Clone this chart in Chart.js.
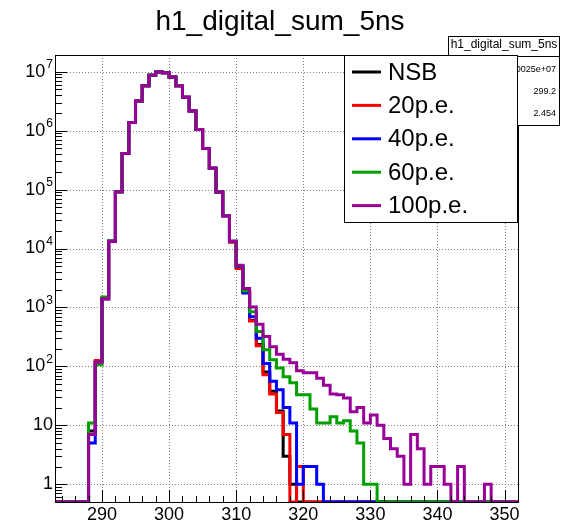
<!DOCTYPE html>
<html>
<head>
<meta charset="utf-8">
<script src="https://cdn.jsdelivr.net/npm/chart.js@4.4.0/dist/chart.umd.min.js"></script>
<style>
html, body { margin: 0; padding: 0; background: #fff; }
canvas { display: block; }
</style>
</head>
<body>
<canvas id="c" width="561" height="526"></canvas>
<script>
// histogram binning: unit bins from 283 to 352
const binStart = 283;
const binEnd = 352;
const yMin = 0.5;
const yMax = 1.92e7;

const xTicks = [290, 300, 310, 320, 330, 340, 350];
const yDecades = [0, 1, 2, 3, 4, 5, 6, 7];

const seriesNames = ['NSB', '20p.e.', '40p.e.', '60p.e.', '100p.e.'];

// bin contents, bins 283 ... 351
const nsb = [0, 0, 0, 0, 0, 8, 120,
  1400, 13300, 92000, 410000, 1380000, 3180000, 5800000, 8700000, 9900000, 9600000,
  8100000, 5800000, 3700000, 2160000, 1050000, 500000, 230000, 91000, 36000, 13000,
  4800, 1850, 600, 235, 80, 38, 17.5, 3, 1,
  0, 0, 0, 0, 0, 0, 0, 0, 0, 0, 0, 0, 0, 0, 0, 0, 0, 0, 0, 0, 0, 0, 0, 0, 0, 0, 0, 0, 0, 0, 0, 0, 0];

const pe20 = [0, 0, 0, 0, 0, 7, 126,
  1400, 13300, 92000, 410000, 1380000, 3180000, 5800000, 8700000, 9900000, 9600000,
  8100000, 5800000, 3700000, 2160000, 1050000, 500000, 230000, 91000, 36000, 12800,
  4600, 1800, 590, 225, 72, 34, 16.5, 7, 0, 2,
  0, 0, 0, 0, 0, 0, 0, 0, 0, 0, 0, 0, 0, 0, 0, 0, 0, 0, 0, 0, 0, 0, 0, 0, 0, 0, 0, 0, 0, 0, 0, 0];

const pe40 = [0, 0, 0, 0, 0, 5, 118,
  1400, 13300, 92000, 410000, 1380000, 3180000, 5800000, 8700000, 9900000, 9600000,
  8100000, 5800000, 3700000, 2160000, 1050000, 500000, 230000, 91000, 36000, 13300,
  5000, 1760, 695, 300, 112, 56, 40, 20, 11, 1, 2, 2, 1,
  0, 0, 0, 0, 0, 0, 0, 0, 0, 0, 0, 0, 0, 0, 0, 0, 0, 0, 0, 0, 0, 0, 0, 0, 0, 0, 0, 0, 0];

const pe60 = [0, 0, 0, 0, 0, 11, 107,
  1500, 13500, 92000, 410000, 1380000, 3180000, 5800000, 8700000, 9900000, 9600000,
  8100000, 5800000, 3700000, 2160000, 1050000, 500000, 230000, 91000, 36000, 13300,
  5100, 1900, 845, 390, 191, 130, 94, 67, 53, 33, 33, 19, 11, 11, 14, 11, 12, 8, 5, 1, 1,
  0, 0, 0, 0, 0, 0, 0, 0, 0, 0, 0, 0, 0, 0, 0, 0, 0, 0, 0, 0, 0];

const pe100 = [0, 0, 0, 0, 0, 7, 118,
  1400, 13300, 92000, 410000, 1380000, 3180000, 5800000, 8700000, 9900000, 9600000,
  8100000, 5800000, 3700000, 2160000, 1050000, 500000, 230000, 91000, 36000, 13300,
  5200, 2090, 1020, 520, 320, 215, 160, 132, 115, 84, 78, 78, 63, 48, 34, 33, 29, 17, 20,
  11, 15, 10, 6, 4, 3, 1, 7, 4, 1, 2, 2, 1, 0, 2, 0, 0, 0, 1,
  0, 0, 0, 0];

const statLabels = ['Entries', 'Mean', 'Std Dev'];
const statValues = ['6.0025e+07', '299.2', '2.454'];

const seriesData = [nsb, pe20, pe40, pe60, pe100];
const colors = ['#000000', '#ff0000', '#0000ff', '#00a000', '#990099'];

const FONT = '"Liberation Sans", Arial, sans-serif';

// points at bin low edges, plus the last high edge
function toSteps(vals) {
  const pts = vals.map((v, i) => ({ x: binStart + i, y: Math.max(v, yMin) }));
  pts.push({ x: binEnd, y: Math.max(vals[vals.length - 1], yMin) });
  return pts;
}

const rootStyle = {
  id: 'rootStyle',
  beforeDraw(chart) {
    const ctx = chart.ctx;
    ctx.save();
    ctx.fillStyle = '#ffffff';
    ctx.fillRect(0, 0, chart.width, chart.height);
    ctx.restore();
  },
  beforeDatasetsDraw(chart) {
    const { ctx, chartArea: a, scales: { x, y } } = chart;
    ctx.save();
    ctx.strokeStyle = '#808080';
    ctx.lineWidth = 1;
    ctx.setLineDash([1, 2]);
    xTicks.forEach(t => {
      const px = Math.round(x.getPixelForValue(t)) + 0.5;
      ctx.beginPath();
      ctx.moveTo(px, a.top);
      ctx.lineTo(px, a.bottom);
      ctx.stroke();
    });
    yDecades.forEach(k => {
      const py = Math.round(y.getPixelForValue(Math.pow(10, k))) + 0.5;
      ctx.beginPath();
      ctx.moveTo(a.left, py);
      ctx.lineTo(a.right, py);
      ctx.stroke();
    });
    ctx.restore();
  },
  afterDatasetsDraw(chart) {
    const { ctx, chartArea: a, scales: { x, y } } = chart;
    ctx.save();
    ctx.setLineDash([]);
    ctx.strokeStyle = '#000';
    ctx.lineWidth = 1;

    // frame
    ctx.strokeRect(a.left + 0.5, a.top + 0.5, a.right - a.left, a.bottom - a.top);

    // x ticks (major every 10, minor every 2)
    for (let v = 284; v <= binEnd; v += 2) {
      const px = Math.round(x.getPixelForValue(v)) + 0.5;
      const len = v % 10 === 0 ? 12 : 6;
      ctx.beginPath();
      ctx.moveTo(px, a.bottom);
      ctx.lineTo(px, a.bottom - len);
      ctx.stroke();
    }

    // y ticks (log)
    for (let k = -1; k <= 7; k++) {
      for (let m = 1; m <= 9; m++) {
        const v = m * Math.pow(10, k);
        if (v < yMin || v > yMax) continue;
        const py = Math.round(y.getPixelForValue(v)) + 0.5;
        const len = m === 1 ? 12 : 7;
        ctx.beginPath();
        ctx.moveTo(a.left, py);
        ctx.lineTo(a.left + len, py);
        ctx.stroke();
      }
    }

    // x labels
    ctx.fillStyle = '#000';
    ctx.font = '18px ' + FONT;
    ctx.textAlign = 'center';
    ctx.textBaseline = 'middle';
    xTicks.forEach(t => {
      ctx.fillText(String(t), x.getPixelForValue(t), 515);
    });

    // y labels with exponent
    const rightEdge = 53;
    yDecades.forEach(k => {
      const py = y.getPixelForValue(Math.pow(10, k));
      const base = k === 0 ? '1' : '10';
      ctx.font = '18px ' + FONT;
      const bw = ctx.measureText(base).width;
      if (k >= 2) {
        ctx.font = '12px ' + FONT;
        const ew = ctx.measureText(String(k)).width;
        ctx.textAlign = 'left';
        ctx.fillText(String(k), rightEdge - ew, py - 7);
        ctx.font = '18px ' + FONT;
        ctx.fillText(base, rightEdge - ew - bw - 1, py);
      } else {
        ctx.textAlign = 'left';
        ctx.fillText(base, rightEdge - bw, py);
      }
    });

    // title
    ctx.font = '28px ' + FONT;
    ctx.textAlign = 'center';
    ctx.fillText('h1_digital_sum_5ns', 280, 22);

    // stats box
    ctx.fillStyle = '#fff';
    ctx.fillRect(448.5, 36.5, 111, 89);
    ctx.strokeRect(448.5, 36.5, 111, 89);
    ctx.beginPath();
    ctx.moveTo(448.5, 56.5);
    ctx.lineTo(559.5, 56.5);
    ctx.stroke();
    ctx.fillStyle = '#000';
    ctx.font = '12px ' + FONT;
    ctx.fillText('h1_digital_sum_5ns', 504, 45);
    ctx.font = '9px ' + FONT;
    statLabels.forEach((s, i) => {
      const ty = 70 + i * 22;
      ctx.textAlign = 'left';
      ctx.fillText(s, 454, ty);
      ctx.textAlign = 'right';
      ctx.fillText(statValues[i], 556, ty);
    });

    // legend
    ctx.fillStyle = '#fff';
    ctx.fillRect(344.5, 55.5, 173, 167);
    ctx.strokeStyle = '#000';
    ctx.strokeRect(344.5, 55.5, 173, 167);
    ctx.font = '24px ' + FONT;
    ctx.textAlign = 'left';
    seriesNames.forEach((name, i) => {
      const ly = 72 + i * 33.4;
      ctx.strokeStyle = colors[i];
      ctx.lineWidth = 3;
      ctx.beginPath();
      ctx.moveTo(352, ly);
      ctx.lineTo(381, ly);
      ctx.stroke();
      ctx.fillStyle = '#000';
      ctx.fillText(name, 388, ly + 1);
    });
    ctx.restore();
  }
};

new Chart(document.getElementById('c'), {
  type: 'line',
  data: {
    datasets: seriesData.map((vals, i) => ({
      label: seriesNames[i],
      data: toSteps(vals),
      borderColor: colors[i],
      borderWidth: 3,
      pointRadius: 0,
      stepped: 'before',
      fill: false,
      order: seriesData.length - 1 - i
    }))
  },
  options: {
    responsive: false,
    animation: false,
    events: [],
    layout: { padding: { left: 55, top: 55, right: 43, bottom: 24 } },
    plugins: { legend: { display: false }, title: { display: false }, tooltip: { enabled: false } },
    scales: {
      x: { type: 'linear', min: binStart, max: binEnd, display: false },
      y: { type: 'logarithmic', min: yMin, max: yMax, display: false }
    }
  },
  plugins: [rootStyle]
});
</script>
</body>
</html>
